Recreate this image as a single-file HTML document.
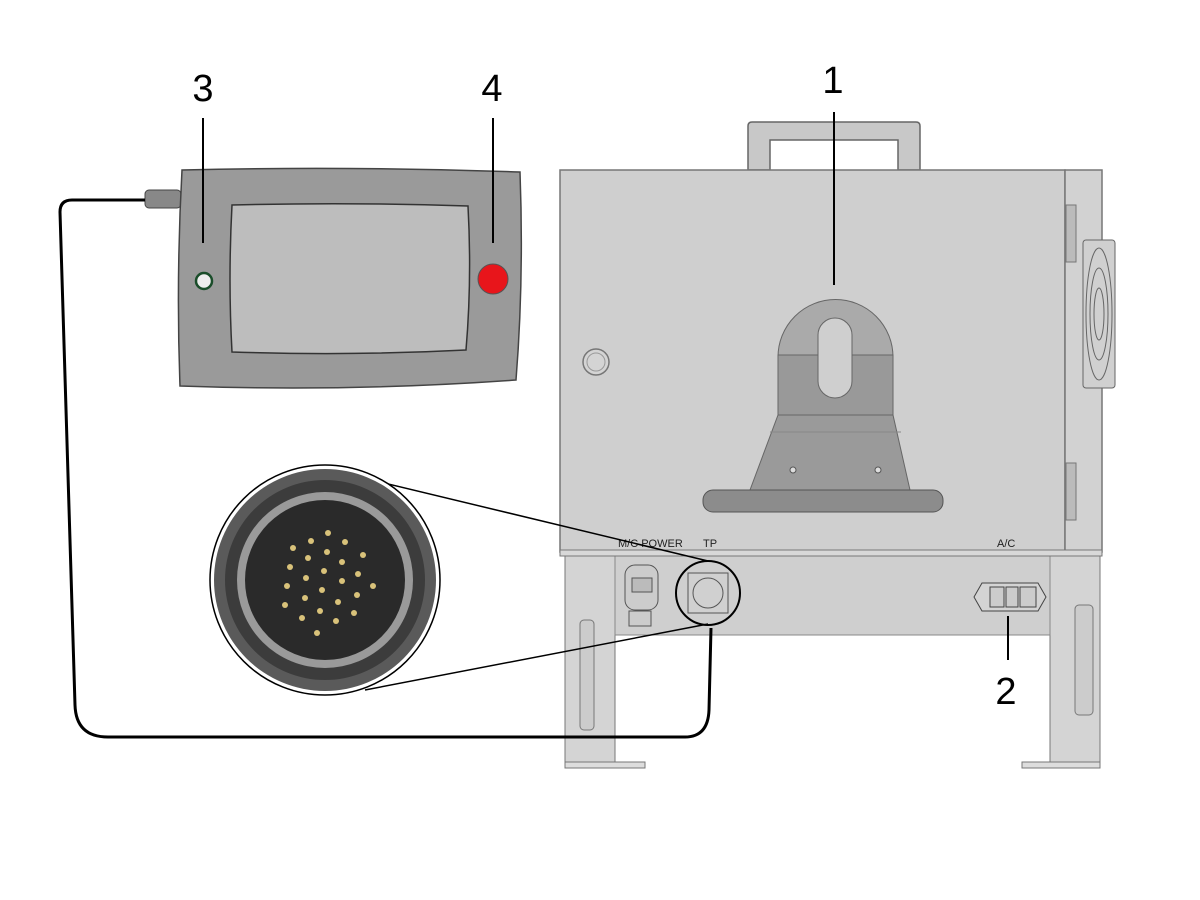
<!DOCTYPE html>
<html><head><meta charset="utf-8"><style>html,body{margin:0;padding:0;background:#fff}svg{display:block}</style></head>
<body>
<svg width="1200" height="900" viewBox="0 0 1200 900" xmlns="http://www.w3.org/2000/svg" font-family="Liberation Sans, sans-serif">
<rect width="1200" height="900" fill="#fff"/>
<!-- handle -->
<path d="M748,170 V126 Q748,122 752,122 H916 Q920,122 920,126 V170 H898 V140 H770 V170 Z" fill="#c8c8c8" stroke="#666" stroke-width="1.5"/>
<!-- legs -->
<rect x="565" y="552" width="50" height="213" fill="#d4d4d4" stroke="#777"/>
<rect x="580" y="620" width="14" height="110" rx="4" fill="#ccc" stroke="#777"/>
<rect x="565" y="762" width="80" height="6" fill="#ddd" stroke="#777"/>
<rect x="1050" y="552" width="50" height="213" fill="#d4d4d4" stroke="#777"/>
<rect x="1075" y="605" width="18" height="110" rx="4" fill="#ccc" stroke="#777"/>
<rect x="1022" y="762" width="78" height="6" fill="#ddd" stroke="#777"/>
<!-- lower panel -->
<rect x="615" y="555" width="435" height="80" fill="#cfcfcf" stroke="#888"/>
<!-- main box -->
<rect x="560" y="170" width="505" height="382" fill="#cfcfcf" stroke="#777" stroke-width="1.5"/>
<rect x="1065" y="170" width="37" height="382" fill="#d2d2d2" stroke="#777" stroke-width="1.5"/>
<rect x="560" y="550" width="542" height="6" fill="#d8d8d8" stroke="#777"/>
<rect x="1066" y="205" width="10" height="57" fill="#bbb" stroke="#777"/>
<rect x="1066" y="463" width="10" height="57" fill="#bbb" stroke="#777"/>
<!-- fan -->
<rect x="1083" y="240" width="32" height="148" rx="3" fill="#d0d0d0" stroke="#666"/>
<ellipse cx="1099" cy="314" rx="13" ry="66" fill="none" stroke="#666"/>
<ellipse cx="1099" cy="314" rx="9" ry="46" fill="none" stroke="#666"/>
<ellipse cx="1099" cy="314" rx="5" ry="26" fill="none" stroke="#666"/>
<!-- knob -->
<circle cx="596" cy="362" r="13" fill="#d4d4d4" stroke="#777" stroke-width="1.5"/>
<circle cx="596" cy="362" r="9" fill="none" stroke="#999"/>
<!-- mount -->
<path d="M778,415 V357 A57,57 0 0 1 893,357 V415 Z" fill="#aaa" stroke="#666"/>
<rect x="778" y="355" width="115" height="60" fill="#999" stroke="#666"/>
<rect x="818" y="318" width="34" height="80" rx="17" fill="#cfcfcf" stroke="#666"/>
<path d="M778,415 H893 L910,490 H750 Z" fill="#9a9a9a" stroke="#666"/>
<path d="M770,432 H901" stroke="#888"/>
<circle cx="793" cy="470" r="3" fill="#ddd" stroke="#555"/>
<circle cx="878" cy="470" r="3" fill="#ddd" stroke="#555"/>
<rect x="703" y="490" width="240" height="22" rx="10" fill="#8c8c8c" stroke="#555"/>
<!-- labels on panel -->
<text x="618" y="547" font-size="11" fill="#222">M/C POWER</text>
<text x="703" y="547" font-size="11" fill="#222">TP</text>
<text x="997" y="547" font-size="11" fill="#222">A/C</text>
<!-- MC power plug -->
<rect x="625" y="565" width="33" height="45" rx="10" fill="#ccc" stroke="#555"/>
<rect x="632" y="578" width="20" height="14" fill="#bbb" stroke="#555"/>
<rect x="629" y="611" width="22" height="15" fill="#ccc" stroke="#555"/>
<!-- TP connector -->
<rect x="688" y="573" width="40" height="40" fill="#d0d0d0" stroke="#555"/>
<circle cx="708" cy="593" r="15" fill="#d0d0d0" stroke="#555"/>
<circle cx="708" cy="593" r="32" fill="none" stroke="#000" stroke-width="2"/>
<!-- A/C module -->
<path d="M982,583 H1038 L1046,597 L1038,611 H982 L974,597 Z" fill="#d4d4d4" stroke="#444"/>
<rect x="990" y="587" width="14" height="20" fill="#ccc" stroke="#444"/>
<rect x="1006" y="587" width="12" height="20" fill="#ccc" stroke="#444"/>
<rect x="1020" y="587" width="16" height="20" fill="#ccc" stroke="#444"/>
<!-- pendant -->
<rect x="145" y="190" width="36" height="18" rx="4" fill="#888" stroke="#444"/>
<path d="M182,170 Q350,166 520,172 Q524,280 516,380 Q350,392 180,386 Q176,280 182,170 Z" fill="#9a9a9a" stroke="#444" stroke-width="1.5"/>
<path d="M232,205 Q350,202 468,206 Q472,280 466,350 Q350,356 232,352 Q228,280 232,205 Z" fill="#bdbdbd" stroke="#333" stroke-width="1.5"/>
<circle cx="204" cy="281" r="8" fill="#eee" stroke="#1a4d2a" stroke-width="2.5"/>
<circle cx="493" cy="279" r="15" fill="#e8151b" stroke="#555"/>
<!-- cable -->
<path d="M145,200 H72 Q60,200 60,212 L75,705 Q76,737 108,737 H685 Q708,737 709,710 L711,628" fill="none" stroke="#000" stroke-width="3"/>
<!-- zoom lines -->
<line x1="380" y1="482" x2="708" y2="561" stroke="#000" stroke-width="1.5"/>
<line x1="365" y1="690" x2="708" y2="624" stroke="#000" stroke-width="1.5"/>
<!-- zoom circle -->
<circle cx="325" cy="580" r="115" fill="#fff" stroke="#000" stroke-width="1.5"/>
<circle cx="325" cy="580" r="111" fill="#5a5a5a"/>
<circle cx="325" cy="580" r="100" fill="#3c3c3c"/>
<circle cx="325" cy="580" r="88" fill="#9a9a9a"/>
<circle cx="325" cy="580" r="80" fill="#2a2a2a"/>
<g fill="#d9c27a">
<circle cx="328" cy="533" r="3"/><circle cx="311" cy="541" r="3"/><circle cx="345" cy="542" r="3"/><circle cx="293" cy="548" r="3"/><circle cx="327" cy="552" r="3"/><circle cx="363" cy="555" r="3"/><circle cx="308" cy="558" r="3"/><circle cx="342" cy="562" r="3"/><circle cx="290" cy="567" r="3"/><circle cx="324" cy="571" r="3"/><circle cx="358" cy="574" r="3"/><circle cx="306" cy="578" r="3"/><circle cx="342" cy="581" r="3"/><circle cx="373" cy="586" r="3"/><circle cx="287" cy="586" r="3"/><circle cx="322" cy="590" r="3"/><circle cx="357" cy="595" r="3"/><circle cx="305" cy="598" r="3"/><circle cx="338" cy="602" r="3"/><circle cx="285" cy="605" r="3"/><circle cx="320" cy="611" r="3"/><circle cx="354" cy="613" r="3"/><circle cx="302" cy="618" r="3"/><circle cx="336" cy="621" r="3"/><circle cx="317" cy="633" r="3"/>
</g>
<!-- leaders -->
<g stroke="#000" stroke-width="2">
<line x1="203" y1="118" x2="203" y2="243"/>
<line x1="493" y1="118" x2="493" y2="243"/>
<line x1="834" y1="112" x2="834" y2="285"/>
<line x1="1008" y1="616" x2="1008" y2="660"/>
</g>
<g font-size="38" fill="#000" text-anchor="middle">
<text x="203" y="101">3</text>
<text x="492" y="101">4</text>
<text x="833" y="93">1</text>
<text x="1006" y="704">2</text>
</g>
</svg>
</body></html>
